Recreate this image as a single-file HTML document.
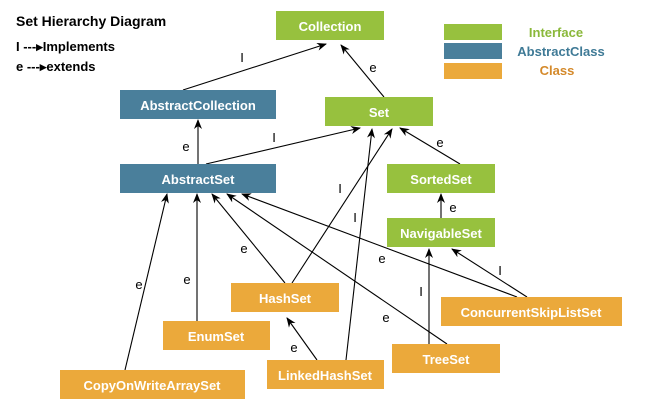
<!DOCTYPE html>
<html><head><style>
body{margin:0;background:#fff;}
svg{display:block;font-family:"Liberation Sans",sans-serif;font-weight:bold;}
.w{fill:#fff;font-size:13px;text-anchor:middle;}
.l{fill:#000;font-size:13px;text-anchor:middle;font-weight:normal;}
line{stroke:#000;stroke-width:1.1;}
</style></head><body>
<svg width="650" height="405" viewBox="0 0 650 405">
<defs><marker id="a" markerWidth="10" markerHeight="8" refX="9" refY="4" orient="auto" markerUnits="userSpaceOnUse"><path d="M0,0 L10,4 L0,8 L3,4z" fill="#000"/></marker></defs>
<text x="16" y="26" font-size="14" fill="#000">Set Hierarchy Diagram</text>
<text x="16" y="51" font-size="13" fill="#000">I ---▸Implements</text>
<text x="16" y="71" font-size="13" fill="#000">e ---▸extends</text>
<rect x="444" y="24" width="58" height="16" fill="#97c13e"/>
<rect x="444" y="43" width="58" height="16" fill="#4a7f9b"/>
<rect x="444" y="63" width="58" height="16" fill="#eba93b"/>
<text x="556" y="37" font-size="13" fill="#8ab83a" text-anchor="middle">Interface</text>
<text x="561" y="56" font-size="13" fill="#3f7a96" text-anchor="middle">AbstractClass</text>
<text x="557" y="75" font-size="13" fill="#d4892a" text-anchor="middle">Class</text>
<g marker-end="url(#a)">
<line x1="183" y1="90" x2="326" y2="44"/>
<line x1="384" y1="97" x2="341" y2="45"/>
<line x1="198" y1="164" x2="198" y2="120"/>
<line x1="206" y1="164" x2="360" y2="128"/>
<line x1="460" y1="164" x2="400" y2="128"/>
<line x1="292" y1="283" x2="392" y2="129"/>
<line x1="346" y1="360" x2="372" y2="129"/>
<line x1="441" y1="218" x2="441" y2="194"/>
<line x1="125" y1="370" x2="167" y2="194"/>
<line x1="197" y1="321" x2="197" y2="194"/>
<line x1="285" y1="283" x2="212" y2="194"/>
<line x1="447" y1="344" x2="227" y2="194"/>
<line x1="517" y1="297" x2="242" y2="194"/>
<line x1="527" y1="297" x2="452" y2="249"/>
<line x1="429" y1="344" x2="429" y2="249"/>
<line x1="317" y1="360" x2="287" y2="318"/>
</g>
<g class="l">
<text x="242" y="62">I</text><text x="373" y="72">e</text>
<text x="186" y="151">e</text><text x="274" y="142">I</text>
<text x="440" y="147">e</text><text x="340" y="193">I</text>
<text x="355" y="222">I</text><text x="453" y="212">e</text>
<text x="139" y="289">e</text><text x="187" y="284">e</text>
<text x="244" y="253">e</text><text x="386" y="322">e</text>
<text x="382" y="263">e</text><text x="500" y="275">I</text>
<text x="421" y="296">I</text><text x="294" y="352">e</text>
</g>
<rect x="276" y="11" width="108" height="29" fill="#97c13e"/><text class="w" x="330" y="31">Collection</text>
<rect x="120" y="90" width="156" height="29" fill="#4a7f9b"/><text class="w" x="198" y="110">AbstractCollection</text>
<rect x="325" y="97" width="108" height="29" fill="#97c13e"/><text class="w" x="379" y="117">Set</text>
<rect x="120" y="164" width="156" height="29" fill="#4a7f9b"/><text class="w" x="198" y="184">AbstractSet</text>
<rect x="387" y="164" width="108" height="29" fill="#97c13e"/><text class="w" x="441" y="184">SortedSet</text>
<rect x="387" y="218" width="108" height="29" fill="#97c13e"/><text class="w" x="441" y="238">NavigableSet</text>
<rect x="231" y="283" width="108" height="29" fill="#eba93b"/><text class="w" x="285" y="303">HashSet</text>
<rect x="163" y="321" width="107" height="29" fill="#eba93b"/><text class="w" x="216" y="341">EnumSet</text>
<rect x="60" y="370" width="185" height="29" fill="#eba93b"/><text class="w" x="152" y="390">CopyOnWriteArraySet</text>
<rect x="267" y="360" width="117" height="29" fill="#eba93b"/><text class="w" x="325" y="380">LinkedHashSet</text>
<rect x="392" y="344" width="108" height="29" fill="#eba93b"/><text class="w" x="446" y="364">TreeSet</text>
<rect x="441" y="297" width="181" height="29" fill="#eba93b"/><text class="w" x="531" y="317">ConcurrentSkipListSet</text>
</svg>
</body></html>
